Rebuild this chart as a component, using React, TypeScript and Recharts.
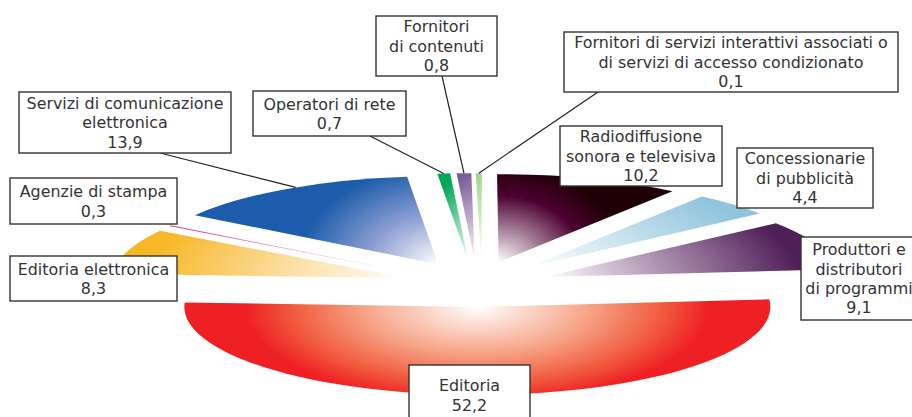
import { PieChart, Pie } from "recharts";

const categories = [
  "Editoria",
  "Editoria elettronica",
  "Agenzie di stampa",
  "Servizi di comunicazione elettronica",
  "Operatori di rete",
  "Fornitori di contenuti",
  "Fornitori di servizi interattivi associati o di servizi di accesso condizionato",
  "Radiodiffusione sonora e televisiva",
  "Concessionarie di pubblicità",
  "Produttori e distributori di programmi",
];
const shares = [52.2, 8.3, 0.3, 13.9, 0.7, 0.8, 0.1, 10.2, 4.4, 9.1];

const labelLines = [
  ["Editoria", "52,2"],
  ["Editoria elettronica", "8,3"],
  ["Agenzie di stampa", "0,3"],
  ["Servizi di comunicazione", "elettronica", "13,9"],
  ["Operatori di rete", "0,7"],
  ["Fornitori", "di contenuti", "0,8"],
  ["Fornitori di servizi interattivi associati o", "di servizi di accesso condizionato", "0,1"],
  ["Radiodiffusione", "sonora e televisiva", "10,2"],
  ["Concessionarie", "di pubblicità", "4,4"],
  ["Produttori e", "distributori", "di programmi", "9,1"],
];

const chartData = categories.map((name, i) => ({ name, value: shares[i] }));

// the pie is a flattened ellipse, every slice pulled out along its own mid angle
const CX = 476;
const CY = 285;
const RX = 293;
const FLATTEN = 0.3;
const EXPLODE = 0.25;

// label boxes, with the leader start where there is one
const boxes: any[] = [
  { x: 409, y: 365, w: 121, h: 60 },
  { x: 10, y: 256, w: 167, h: 45 },
  { x: 10, y: 178, w: 167, h: 46 },
  { x: 19, y: 92, w: 212, h: 61, from: [160, 153], lean: -2 },
  { x: 253, y: 91, w: 153, h: 45, from: [370, 136] },
  { x: 376, y: 16, w: 121, h: 60, from: [442, 76] },
  { x: 564, y: 32, w: 334, h: 60, from: [598, 92] },
  { x: 560, y: 126, w: 162, h: 60 },
  { x: 737, y: 148, w: 136, h: 60 },
  { x: 801, y: 237, w: 116, h: 83 },
];

// gradient radii and stops per slice; nudge/span only where the slice sits a bit off
const fills: any[] = [
  { gx: 232, gy: 96, stops: [[0, "#ffffff"], [0.5, "#f6a083"], [0.8, "#f15a3c"], [1, "#ee2024"]] },
  { gx: 260, gy: 100, stops: [[0, "#ffffff"], [0.5, "#fcdc9c"], [1, "#f6b826"]] },
  { gx: 240, gy: 100, span: 0.7, dy: 1, stops: [[0, "#ffffff"], [1, "#d9489a"]] },
  { gx: 140, gy: 98, dy: -2, stops: [[0, "#ffffff"], [0.5, "#8c9ed2"], [1, "#1c5caa"]] },
  { gx: 44, gy: 88, dx: -1.5, dy: -2, stops: [[0, "#ffffff"], [1, "#00a859"]] },
  { gx: 44, gy: 88, dx: 1.5, dy: -2, stops: [[0, "#ffffff"], [1, "#7a5b9b"]] },
  { gx: 44, gy: 88, dx: 6, dy: -2, span: 1.2, stops: [[0, "#ffffff"], [1, "#a2d68c"]] },
  { gx: 150, gy: 115, dy: -2, stops: [[0, "#ffffff"], [0.58, "#4d0030"], [0.85, "#1f0005"], [1, "#1f0005"]] },
  { gx: 240, gy: 100, dx: 1, dy: -2, stops: [[0, "#ffffff"], [1, "#8fc5dc"]] },
  { gx: 255, gy: 100, stops: [[0, "#ffffff"], [0.5, "#a88cac"], [1, "#4f1f57"]] },
];

const rad = (deg: number) => (deg * Math.PI) / 180;

function apex(cx: number, cy: number, r: number, midAngle: number, index: number) {
  const f = fills[index];
  return {
    x: cx + EXPLODE * r * Math.cos(rad(midAngle)) + (f.dx ?? 0),
    y: cy - EXPLODE * r * FLATTEN * Math.sin(rad(midAngle)) + (f.dy ?? 0),
  };
}

function FlatSlice(props: any) {
  const { cx, cy, outerRadius, startAngle, endAngle, index } = props;
  const f = fills[index];
  const mid = (startAngle + endAngle) / 2;
  const half = (f.span ?? Math.abs(startAngle - endAngle)) / 2;
  const a0 = mid + half;
  const a1 = mid - half;
  const ry = outerRadius * FLATTEN;
  const o = apex(cx, cy, outerRadius, mid, index);
  const x0 = o.x + outerRadius * Math.cos(rad(a0));
  const y0 = o.y - ry * Math.sin(rad(a0));
  const x1 = o.x + outerRadius * Math.cos(rad(a1));
  const y1 = o.y - ry * Math.sin(rad(a1));
  const large = a0 - a1 > 180 ? 1 : 0;
  const id = `slice-${index}`;
  return (
    <g>
      <radialGradient
        id={id}
        gradientUnits="userSpaceOnUse"
        cx={0}
        cy={0}
        r={1}
        gradientTransform={`translate(${o.x} ${o.y}) scale(${f.gx} ${f.gy})`}
      >
        {f.stops.map(([offset, color]: any) => (
          <stop key={offset} offset={offset} stopColor={color} />
        ))}
      </radialGradient>
      <path
        d={`M${o.x},${o.y} L${x0},${y0} A${outerRadius},${ry} 0 ${large} 1 ${x1},${y1} Z`}
        fill={`url(#${id})`}
      />
    </g>
  );
}

function BoxLabel(props: any) {
  const { cx, cy, outerRadius, midAngle, index } = props;
  const b = boxes[index];
  const lines = labelLines[index];
  const o = apex(cx, cy, outerRadius, midAngle, index);
  const tipAngle = midAngle + (b.lean ?? 0);
  const tipX = o.x + outerRadius * Math.cos(rad(tipAngle));
  const tipY = o.y - outerRadius * FLATTEN * Math.sin(rad(tipAngle));
  const step = 19.4;
  const firstY = b.y + b.h / 2 - ((lines.length - 1) * step) / 2 + 5.8;
  return (
    <g>
      {b.from && (
        <line x1={b.from[0]} y1={b.from[1]} x2={tipX} y2={tipY} stroke="#222" strokeWidth={1.2} />
      )}
      <rect x={b.x} y={b.y} width={b.w} height={b.h} fill="#fff" stroke="#333" strokeWidth={1.4} />
      {lines.map((line, i) => (
        <text
          key={i}
          x={b.x + b.w / 2}
          y={firstY + i * step}
          textAnchor="middle"
          fontFamily="DejaVu Sans"
          fontSize={15.9}
          fill="#333"
        >
          {line}
        </text>
      ))}
    </g>
  );
}

export default function App() {
  return (
    <div style={{ position: "absolute", left: 0, top: 0, width: 912, height: 417, overflow: "hidden", background: "#fff" }}>
      <PieChart width={912} height={417} margin={{ top: 0, right: 0, bottom: 0, left: 0 }}>
        <Pie
          data={chartData}
          dataKey="value"
          nameKey="name"
          cx={CX}
          cy={CY}
          innerRadius={0}
          outerRadius={RX}
          startAngle={5}
          endAngle={-355}
          stroke="none"
          shape={FlatSlice}
          label={BoxLabel}
          labelLine={false}
          isAnimationActive={false}
        />
      </PieChart>
    </div>
  );
}
